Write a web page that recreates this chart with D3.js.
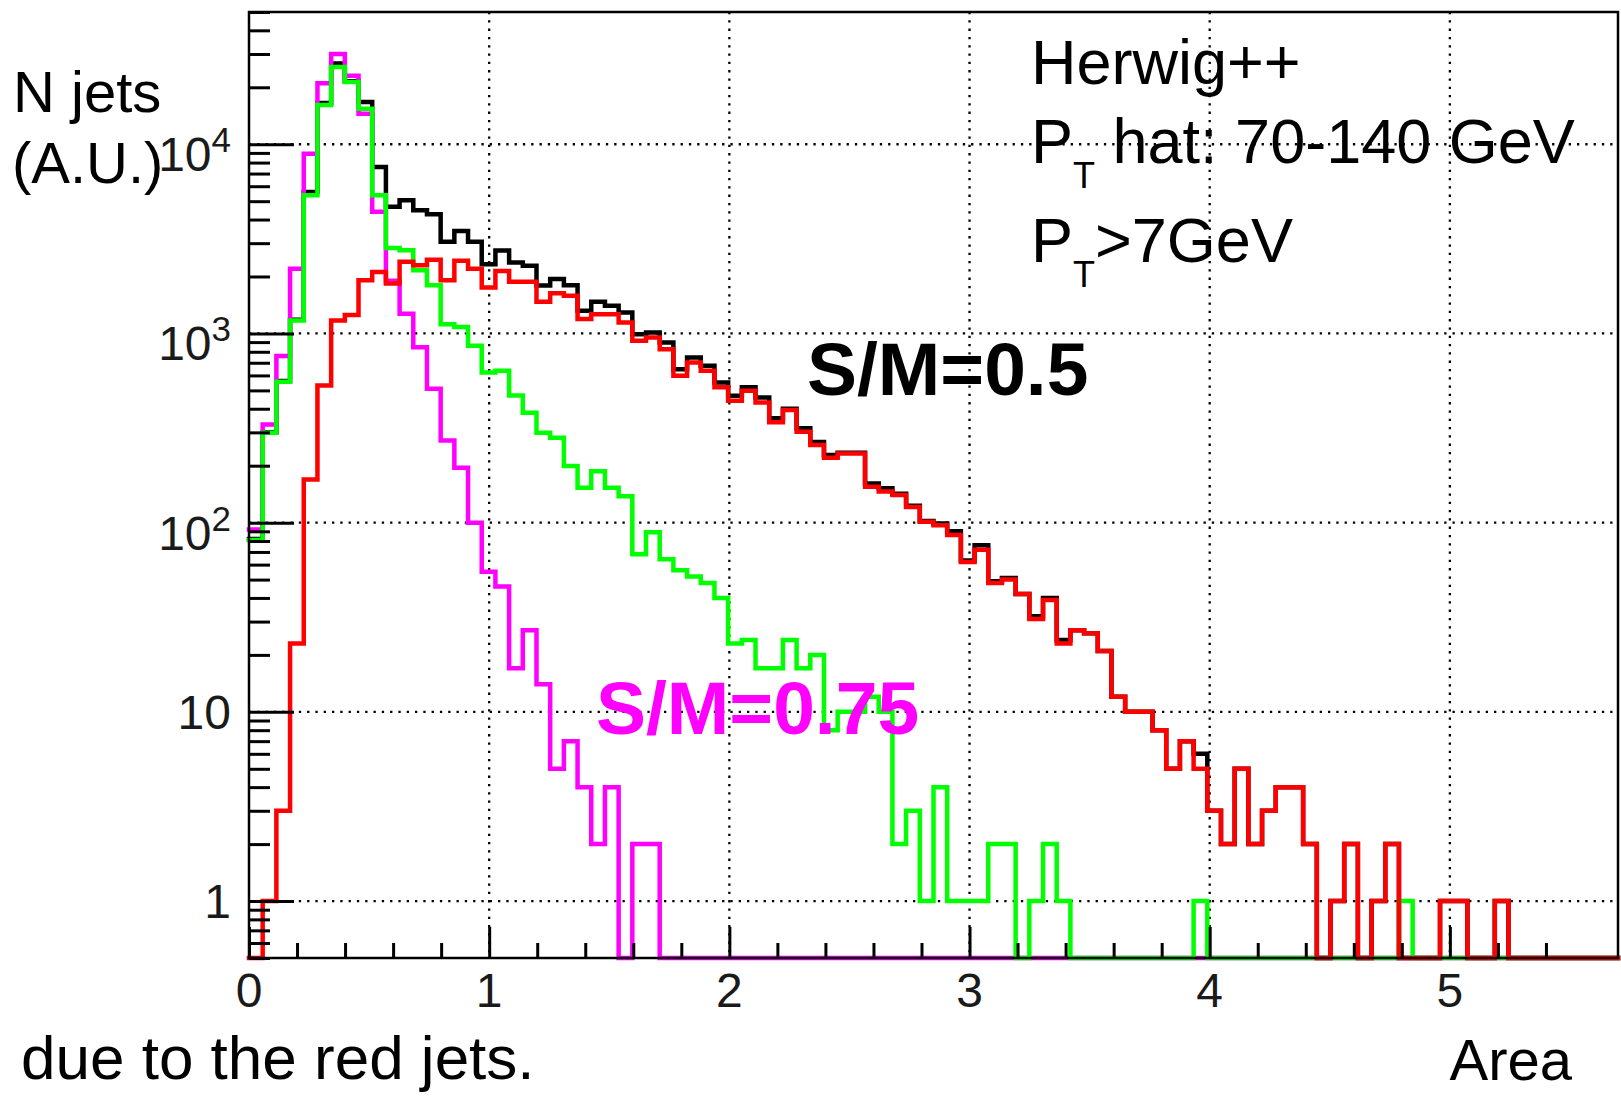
<!DOCTYPE html>
<html>
<head>
<meta charset="utf-8">
<script src="https://cdn.jsdelivr.net/npm/d3@7"></script>
<style>
  html, body { margin: 0; padding: 0; background: #fff; }
  svg { display: block; }
  text { font-family: "Liberation Sans", Arial, Helvetica, sans-serif; }
</style>
</head>
<body>
<svg id="chart" width="1621" height="1096"></svg>
<script>
// histogram binning: 100 bins over the jet area range
const areaMin = 0, areaMax = 5.7, nBins = 100;
const countMin = 0.5, countMax = 50000;

// bin contents (0 = empty bin)
const blackJets = [
  82, 300, 560, 1180, 5600, 16500, 26700, 21500, 16700, 7590,
  4670, 5060, 4480, 4270, 3050, 3480, 3050, 2320, 2740, 2370,
  2280, 1790, 1940, 1800, 1318, 1470, 1400, 1290, 991, 1012,
  896, 647, 746, 675, 551, 469, 519, 459, 356, 400,
  315, 267, 228, 234, 234, 161, 152, 142, 123, 102,
  99, 90, 63, 76, 49, 51, 42, 32, 40, 24,
  27, 26, 21, 12, 10, 10, 8, 5, 7, 6,
  3, 2, 5, 2, 3, 4, 4, 2, 0, 1,
  2, 0, 1, 2, 0, 0, 0, 1, 1, 0,
  0, 1, 0, 0, 0, 0, 0, 0, 0, 0
];
const redJets = [
  0, 1, 3, 23, 169, 530, 1170, 1250, 1910, 2110,
  1835, 2390, 2290, 2450, 1910, 2420, 2200, 1750, 2140, 1875,
  1875, 1470, 1633, 1581, 1191, 1265, 1265, 1143, 915, 953,
  826, 597, 703, 635, 519, 441, 498, 432, 339, 394,
  302, 257, 220, 232, 232, 155, 146, 140, 121, 101,
  97, 86, 62, 72, 48, 50, 42, 31, 39, 23,
  27, 26, 21, 12, 10, 10, 8, 5, 7, 5,
  3, 2, 5, 2, 3, 4, 4, 2, 0, 1,
  2, 0, 1, 2, 0, 0, 0, 1, 1, 0,
  0, 1, 0, 0, 0, 0, 0, 0, 0, 0
];
const greenJets = [
  81, 299, 555, 1170, 5370, 16100, 25600, 21300, 15400, 5370,
  2830, 2750, 2160, 1800, 1120, 1080, 860, 622, 635, 470,
  381, 299, 281, 199, 153, 187, 153, 138, 68, 89,
  64, 56, 52, 48, 40, 23, 24, 17, 17, 24,
  17, 20, 8, 10, 10, 12, 10, 2, 3, 1,
  4, 1, 1, 1, 2, 2, 0, 1, 2, 1,
  0, 0, 0, 0, 0, 0, 0, 0, 0, 1,
  0, 0, 0, 0, 0, 0, 0, 0, 0, 0,
  0, 0, 0, 0, 1, 0, 0, 0, 0, 0,
  0, 0, 0, 0, 0, 0, 0, 0, 0, 0
];
const magentaJets = [
  92, 330, 760, 2200, 8900, 21000, 30000, 23000, 14500, 4400,
  1900, 1270, 845, 510, 272, 195, 100, 55, 46, 17,
  27, 14, 5, 7, 4, 2, 4, 0, 2, 2,
  0, 0, 0, 0, 0, 0, 0, 0, 0, 0,
  0, 0, 0, 0, 0, 0, 0, 0, 0, 0,
  0, 0, 0, 0, 0, 0, 0, 0, 0, 0,
  0, 0, 0, 0, 0, 0, 0, 0, 0, 0,
  0, 0, 0, 0, 0, 0, 0, 0, 0, 0,
  0, 0, 0, 0, 0, 0, 0, 0, 0, 0,
  0, 0, 0, 0, 0, 0, 0, 0, 0, 0
];

// tick values and labels
const xTickValues = [0, 1, 2, 3, 4, 5];
const yTickValues = [1, 10, 100, 1000, 10000];
const yTickLabels = [["1", ""], ["10", ""], ["10", "2"], ["10", "3"], ["10", "4"]];

// drawing order: black first, red on top
const series = [
  {values: blackJets, color: "#000000"},
  {values: magentaJets, color: "#ff00ff"},
  {values: greenJets, color: "#00ff00"},
  {values: redJets, color: "#ff0000"}
];

const frame = {left: 249, right: 1618, top: 12, bottom: 958};
const svg = d3.select("#chart");
svg.append("rect").attr("width", 1621).attr("height", 1096).attr("fill", "#fff");

const x = d3.scaleLinear().domain([areaMin, areaMax]).range([frame.left, frame.right]);
const y = d3.scaleLog().domain([countMin, countMax]).range([frame.bottom, frame.top]);

// minor tick values
let yMinor = [];
for (let d = 0.1; d <= 10000; d *= 10) {
    for (let k = 2; k <= 9; k++) {
        let v = Math.round(k * d * 100) / 100;
        if (v >= countMin && v <= countMax) yMinor.push(v);
    }
}
let xMinor = d3.range(0, 56, 2).map(function(d) { return d / 10; })
    .filter(function(d) { return d % 1 !== 0; });

// grid (dotted)
const grid = svg.append("g").attr("stroke", "#000").attr("stroke-width", 2.3)
    .attr("stroke-dasharray", "2.3 6");
grid.selectAll("line.gx").data(xTickValues.slice(1)).enter().append("line")
    .attr("x1", function(d) { return x(d); }).attr("x2", function(d) { return x(d); })
    .attr("y1", frame.top).attr("y2", frame.bottom);
grid.selectAll("line.gy").data(yTickValues).enter().append("line")
    .attr("x1", frame.left).attr("x2", frame.right)
    .attr("y1", function(d) { return y(d); }).attr("y2", function(d) { return y(d); });

// histograms
const line = d3.line()
    .x(function(d) { return x(d.x); })
    .y(function(d) { return y(Math.max(d.v, countMin)); })
    .curve(d3.curveStepAfter);
const binWidth = (areaMax - areaMin) / nBins;

series.forEach(function(s) {
    let pts = s.values.map(function(v, i) { return {x: areaMin + i * binWidth, v: v}; });
    pts.push({x: areaMax, v: s.values[nBins - 1]});
    svg.append("path").datum(pts)
        .attr("d", line)
        .attr("fill", "none")
        .attr("stroke", s.color)
        .attr("stroke-width", 4.5)
        .attr("stroke-linejoin", "miter")
        .attr("stroke-linecap", "square");
});

// axes
function styleAxis(g, w) {
    g.select(".domain").remove();
    g.selectAll(".tick line").attr("stroke", "#000").attr("stroke-width", w);
}
svg.append("g").attr("transform", "translate(" + frame.left + ",0)")
    .call(d3.axisLeft(y).tickValues(yTickValues).tickSize(-45).tickFormat(""))
    .call(styleAxis, 3);
svg.append("g").attr("transform", "translate(" + frame.left + ",0)")
    .call(d3.axisLeft(y).tickValues(yMinor).tickSize(-21).tickFormat(""))
    .call(styleAxis, 3);
svg.append("g").attr("transform", "translate(0," + frame.bottom + ")")
    .call(d3.axisBottom(x).tickValues(xTickValues).tickSize(-31).tickFormat(""))
    .call(styleAxis, 3);
svg.append("g").attr("transform", "translate(0," + frame.bottom + ")")
    .call(d3.axisBottom(x).tickValues(xMinor).tickSize(-15).tickFormat(""))
    .call(styleAxis, 3);

// frame
svg.append("rect")
    .attr("x", frame.left).attr("y", frame.top)
    .attr("width", frame.right - frame.left).attr("height", frame.bottom - frame.top)
    .attr("fill", "none").attr("stroke", "#000").attr("stroke-width", 2.5);

// tick labels
svg.selectAll("text.xlab").data(xTickValues).enter().append("text")
    .attr("x", function(d) { return x(d); })
    .attr("y", 1007)
    .attr("text-anchor", "middle")
    .attr("font-size", 48)
    .attr("fill", "#1a1a1a")
    .text(function(d) { return d; });

yTickValues.forEach(function(v, i) {
    let lab = yTickLabels[i];
    let t = svg.append("text")
        .attr("x", 231)
        .attr("y", y(v) + (lab[1] ? 27 : 17))
        .attr("text-anchor", "end")
        .attr("font-size", 48)
        .attr("fill", "#1a1a1a")
        .text(lab[0]);
    if (lab[1]) {
        t.append("tspan").attr("dy", -19).attr("font-size", 35).text(lab[1]);
    }
});

// axis titles
svg.append("text").attr("x", 13).attr("y", 112).attr("font-size", 58).text("N jets");
svg.append("text").attr("x", 12).attr("y", 183).attr("font-size", 58).text("(A.U.)");
svg.append("text").attr("x", 1572).attr("y", 1080).attr("text-anchor", "end")
    .attr("font-size", 58).text("Area");

// info text
svg.append("text").attr("x", 1031).attr("y", 84).attr("font-size", 63).text("Herwig++");
let t1 = svg.append("text").attr("x", 1031).attr("y", 163).attr("font-size", 63);
t1.append("tspan").text("P");
t1.append("tspan").attr("dy", 25).attr("font-size", 36).text("T");
t1.append("tspan").attr("dy", -25).text(" hat: 70-140 GeV");
let t2 = svg.append("text").attr("x", 1031).attr("y", 262).attr("font-size", 63);
t2.append("tspan").text("P");
t2.append("tspan").attr("dy", 25).attr("font-size", 36).text("T");
t2.append("tspan").attr("dy", -25).text(">7GeV");

svg.append("text").attr("x", 807).attr("y", 395).attr("font-size", 75)
    .attr("font-weight", "bold").attr("fill", "#000").text("S/M=0.5");
svg.append("text").attr("x", 596).attr("y", 734).attr("font-size", 75)
    .attr("font-weight", "bold").attr("fill", "#ff00ff").text("S/M=0.75");

// caption along the bottom edge
svg.append("text").attr("x", 21).attr("y", 1079).attr("font-size", 62).text("due to the red jets.");
</script>
</body>
</html>
